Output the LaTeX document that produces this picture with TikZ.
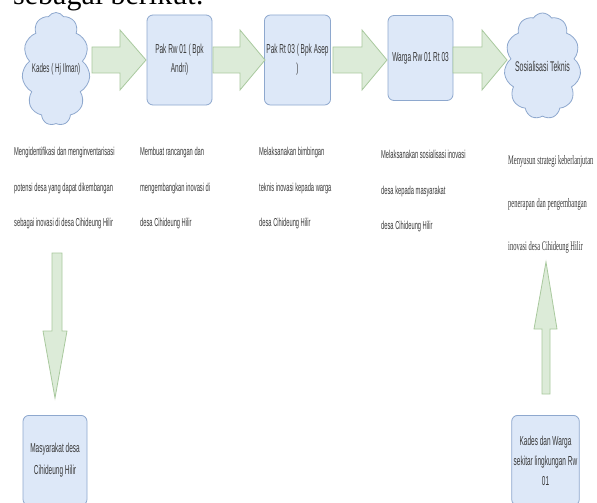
\documentclass[tikz,border=0pt]{standalone}
\usepackage{fontspec}
\setmainfont{Liberation Serif}
\newfontfamily\narrowfont[FakeStretch=0.5]{Liberation Sans}
\newfontfamily\narrowserif[FakeStretch=0.5]{Liberation Serif}
\usetikzlibrary{shapes.symbols}
\definecolor{boxfill}{HTML}{DDE8F8}
\definecolor{boxline}{HTML}{8EA8CE}
\definecolor{arrfill}{HTML}{DCEBD8}
\definecolor{arrline}{HTML}{A9C99E}
\definecolor{txt}{HTML}{383838}
\tikzset{
  bluebox/.style={draw=boxline, fill=boxfill, rounded corners=6pt, line width=0.8pt,
    minimum width=65pt, minimum height=90pt, align=center, text=txt,
    font=\narrowfont\fontsize{13}{19}\selectfont, inner sep=2pt},
  bluecloud/.style={cloud, cloud puffs=11, cloud puff arc=115, cloud ignores aspect,
    draw=boxline, fill=boxfill, line width=0.8pt, align=center, text=txt,
    font=\narrowfont\fontsize{14}{17}\selectfont, inner sep=0pt},
  garrow/.style={draw=arrline, fill=arrfill, line width=0.8pt, line join=miter},
  coltext/.style={anchor=north west, align=left, text=txt, inner sep=0pt,
    font=\narrowfont\fontsize{11.5}{35.5}\selectfont},
  coltextserif/.style={anchor=north west, align=left, text=txt, inner sep=0pt,
    font=\narrowserif\fontsize{13}{43}\selectfont},
}
\begin{document}
\begin{tikzpicture}[x=1pt,y=-1pt]
\useasboundingbox (0,0) rectangle (597,503);
\clip (0,0) rectangle (597,503);
\fill[white] (0,0) rectangle (597,503);
% heading (cut off at top, as in the reference)
\node[anchor=base west, inner sep=0pt, font=\fontsize{30}{36}\selectfont, text=black] (head) at (13,5) {sebagai berikut:};
% top row
\node[bluecloud, minimum width=68pt, minimum height=113pt, font=\narrowfont\fontsize{12.5}{17}\selectfont] (c1) at (56,69) {Kades ( Hj Ilman)};
\node[bluebox] (b2) at (179.5,60) {Pak Rw 01 ( Bpk\\Andri)};
\node[bluebox] (b3) at (297.5,60) {Pak Rt 03 ( Bpk Asep\\)};
\node[bluebox, minimum height=85pt] (b4) at (420.5,58) {Warga Rw 01 Rt 03};
\node[bluecloud, minimum width=72pt, minimum height=106pt] (c5) at (542.5,66) {Sosialisasi Teknis};
% horizontal block arrows
\filldraw[garrow] (92,47) -- (120,47) -- (120,30) -- (146,60) -- (120,90) -- (120,73) -- (92,73) -- cycle;
\filldraw[garrow] (213,47) -- (240,47) -- (240,30) -- (265,60) -- (240,90) -- (240,73) -- (213,73) -- cycle;
\filldraw[garrow] (333,47) -- (362,47) -- (362,30) -- (387,60) -- (362,90) -- (362,73) -- (333,73) -- cycle;
\filldraw[garrow] (453,47) -- (482,47) -- (482,30) -- (507,60) -- (482,90) -- (482,73) -- (453,73) -- cycle;
% description columns
\node[coltext] (t1) at (14,147) {Mengidentifikasi dan menginventarisasi\\potensi desa yang dapat dikembangan\\sebagai inovasi di desa Cihideung Hilir};
\node[coltext] (t2) at (140,147) {Membuat rancangan dan\\mengembangkan inovasi di\\desa Cihideung Hilir};
\node[coltext] (t3) at (259,147) {Melaksanakan bimbingan\\teknis inovasi kepada warga\\desa Cihideung Hilir};
\node[coltext] (t4) at (381,150) {Melaksanakan sosialisasi inovasi\\desa kepada masyarakat\\desa Cihideung Hilir};
\node[coltextserif] (t5) at (508,155) {Menyusun strategi keberlanjutan\\penerapan dan pengembangan\\inovasi desa Cihideung Hilir};
% bottom boxes
\node[bluebox, minimum width=64pt, anchor=north, font=\narrowfont\fontsize{13}{22}\selectfont] (b6) at (55,415) {Masyarakat desa\\Cihideung Hilir};
\node[bluebox, minimum width=67pt, anchor=north, font=\narrowfont\fontsize{13}{20}\selectfont] (b7) at (545.5,415) {Kades dan Warga\\sekitar lingkungan Rw\\01};
% vertical block arrows
\filldraw[garrow] (52,253) -- (62,253) -- (62,331) -- (67,331) -- (55,398) -- (43,331) -- (48,331) -- (52,331) -- cycle;
\filldraw[garrow] (542,394) -- (550,394) -- (550,329) -- (557,329) -- (546,262) -- (534,329) -- (542,329) -- cycle;
\end{tikzpicture}
\end{document}
